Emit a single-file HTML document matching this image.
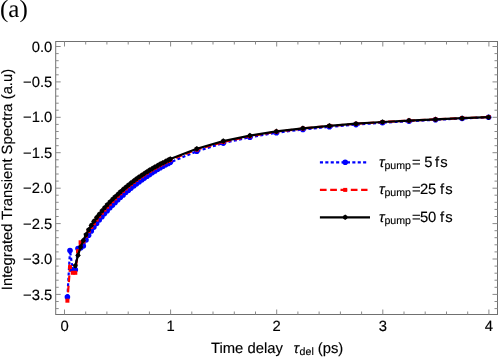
<!DOCTYPE html>
<html><head><meta charset="utf-8"><title>plot</title>
<style>html,body{margin:0;padding:0;background:#fff;}body{width:498px;height:357px;overflow:hidden;position:relative;font-family:"Liberation Sans",sans-serif;}</style></head>
<body>
<svg width="498" height="357" viewBox="0 0 498 357" style="position:absolute;left:0;top:0;will-change:transform">
<rect x="55.7" y="41.5" width="441.8" height="273.0" fill="none" stroke="#707070" stroke-width="1"/>
<path d="M64.5,314.5v-5.0M64.5,41.5v5.0M85.7,314.5v-3.0M85.7,41.5v3.0M106.9,314.5v-3.0M106.9,41.5v3.0M128.2,314.5v-3.0M128.2,41.5v3.0M149.4,314.5v-3.0M149.4,41.5v3.0M170.6,314.5v-5.0M170.6,41.5v5.0M191.8,314.5v-3.0M191.8,41.5v3.0M213.0,314.5v-3.0M213.0,41.5v3.0M234.3,314.5v-3.0M234.3,41.5v3.0M255.5,314.5v-3.0M255.5,41.5v3.0M276.7,314.5v-5.0M276.7,41.5v5.0M297.9,314.5v-3.0M297.9,41.5v3.0M319.1,314.5v-3.0M319.1,41.5v3.0M340.4,314.5v-3.0M340.4,41.5v3.0M361.6,314.5v-3.0M361.6,41.5v3.0M382.8,314.5v-5.0M382.8,41.5v5.0M404.0,314.5v-3.0M404.0,41.5v3.0M425.2,314.5v-3.0M425.2,41.5v3.0M446.5,314.5v-3.0M446.5,41.5v3.0M467.7,314.5v-3.0M467.7,41.5v3.0M488.9,314.5v-5.0M488.9,41.5v5.0M55.7,46.5h5.0M497.5,46.5h-5.0M55.7,53.6h3.0M497.5,53.6h-3.0M55.7,60.7h3.0M497.5,60.7h-3.0M55.7,67.7h3.0M497.5,67.7h-3.0M55.7,74.8h3.0M497.5,74.8h-3.0M55.7,81.9h5.0M497.5,81.9h-5.0M55.7,89.0h3.0M497.5,89.0h-3.0M55.7,96.1h3.0M497.5,96.1h-3.0M55.7,103.2h3.0M497.5,103.2h-3.0M55.7,110.2h3.0M497.5,110.2h-3.0M55.7,117.3h5.0M497.5,117.3h-5.0M55.7,124.4h3.0M497.5,124.4h-3.0M55.7,131.5h3.0M497.5,131.5h-3.0M55.7,138.6h3.0M497.5,138.6h-3.0M55.7,145.7h3.0M497.5,145.7h-3.0M55.7,152.7h5.0M497.5,152.7h-5.0M55.7,159.8h3.0M497.5,159.8h-3.0M55.7,166.9h3.0M497.5,166.9h-3.0M55.7,174.0h3.0M497.5,174.0h-3.0M55.7,181.1h3.0M497.5,181.1h-3.0M55.7,188.2h5.0M497.5,188.2h-5.0M55.7,195.2h3.0M497.5,195.2h-3.0M55.7,202.3h3.0M497.5,202.3h-3.0M55.7,209.4h3.0M497.5,209.4h-3.0M55.7,216.5h3.0M497.5,216.5h-3.0M55.7,223.6h5.0M497.5,223.6h-5.0M55.7,230.7h3.0M497.5,230.7h-3.0M55.7,237.7h3.0M497.5,237.7h-3.0M55.7,244.8h3.0M497.5,244.8h-3.0M55.7,251.9h3.0M497.5,251.9h-3.0M55.7,259.0h5.0M497.5,259.0h-5.0M55.7,266.1h3.0M497.5,266.1h-3.0M55.7,273.2h3.0M497.5,273.2h-3.0M55.7,280.2h3.0M497.5,280.2h-3.0M55.7,287.3h3.0M497.5,287.3h-3.0M55.7,294.4h5.0M497.5,294.4h-5.0M55.7,301.5h3.0M497.5,301.5h-3.0M55.7,308.6h3.0M497.5,308.6h-3.0" stroke="#8a8a8a" stroke-width="1" fill="none"/>
<g font-family="Liberation Sans, sans-serif" font-size="14.8" fill="#000" stroke="#000" stroke-width="0.15" text-rendering="geometricPrecision">
<text x="64.5" y="330.5" text-anchor="middle">0</text>
<text x="170.6" y="330.5" text-anchor="middle">1</text>
<text x="276.7" y="330.5" text-anchor="middle">2</text>
<text x="382.8" y="330.5" text-anchor="middle">3</text>
<text x="488.9" y="330.5" text-anchor="middle">4</text>
<text x="52.3" y="51.6" text-anchor="end">0.0</text>
<text x="52.3" y="87.0" text-anchor="end">−0.5</text>
<text x="52.3" y="122.4" text-anchor="end">−1.0</text>
<text x="52.3" y="157.8" text-anchor="end">−1.5</text>
<text x="52.3" y="193.3" text-anchor="end">−2.0</text>
<text x="52.3" y="228.7" text-anchor="end">−2.5</text>
<text x="52.3" y="264.1" text-anchor="end">−3.0</text>
<text x="52.3" y="299.5" text-anchor="end">−3.5</text>
</g>
<polyline points="67.4,297.1 70.0,250.5 72.7,269.8 75.3,269.8 78.0,248.5 80.6,248.0 83.3,246.0 86.0,240.0 88.6,235.2 91.3,230.9 93.9,227.1 96.6,223.5 99.2,220.0 101.9,216.8 104.5,213.6 107.2,210.7 109.8,207.8 112.5,205.1 115.1,202.4 117.8,199.8 120.4,197.3 123.1,194.9 125.7,192.5 128.4,190.3 131.0,188.1 133.7,186.0 136.3,184.0 139.0,182.0 141.7,180.0 144.3,178.1 147.0,176.2 149.6,174.4 152.3,172.6 154.9,170.9 157.6,169.3 160.2,167.7 162.9,166.2 165.5,164.8 168.2,163.4 170.3,162.3 196.8,151.3 223.3,143.1 249.9,137.2 276.4,132.7 302.9,129.4 329.4,126.8 356.0,124.6 382.5,122.7 409.0,121.2 435.5,119.8 462.1,118.5 488.6,117.3" fill="none" stroke="#0000ff" stroke-width="2.2" stroke-dasharray="3.1 2.3"/>
<polyline points="67.4,300.7 70.0,267.1 72.7,272.8 75.3,272.8 78.0,251.1 80.6,242.3 83.3,241.5 86.0,235.7 88.6,231.1 91.3,227.0 93.9,223.3 96.6,219.6 99.2,216.1 101.9,212.8 104.5,209.7 107.2,206.7 109.8,203.8 112.5,201.1 115.1,198.4 117.8,195.8 120.4,193.3 123.1,190.9 125.7,188.5 128.4,186.3 131.0,184.1 133.7,182.0 136.3,180.0 139.0,178.0 141.7,176.2 144.3,174.4 147.0,172.7 149.6,171.0 152.3,169.4 154.9,167.9 157.6,166.4 160.2,164.9 162.9,163.5 165.5,162.2 168.2,160.9 170.3,159.8 196.8,149.6 223.3,142.0 249.9,136.2 276.4,131.7 302.9,128.5 329.4,125.9 356.0,123.8 382.5,122.0 409.0,120.6 435.5,119.3 462.1,118.1 488.6,117.0" fill="none" stroke="#ff0000" stroke-width="2.2" stroke-dasharray="6.7 3.6" stroke-dashoffset="2"/>
<circle cx="67.4" cy="297.1" r="2.8" fill="#0000ff"/>
<circle cx="70.0" cy="250.5" r="2.8" fill="#0000ff"/>
<circle cx="72.7" cy="269.8" r="2.8" fill="#0000ff"/>
<circle cx="75.3" cy="269.8" r="2.8" fill="#0000ff"/>
<circle cx="78.0" cy="248.5" r="2.8" fill="#0000ff"/>
<circle cx="80.6" cy="248.0" r="2.8" fill="#0000ff"/>
<circle cx="83.3" cy="246.0" r="2.8" fill="#0000ff"/>
<circle cx="86.0" cy="240.0" r="2.8" fill="#0000ff"/>
<circle cx="88.6" cy="235.2" r="2.8" fill="#0000ff"/>
<circle cx="91.3" cy="230.9" r="2.8" fill="#0000ff"/>
<circle cx="93.9" cy="227.1" r="2.8" fill="#0000ff"/>
<circle cx="96.6" cy="223.5" r="2.8" fill="#0000ff"/>
<circle cx="99.2" cy="220.0" r="2.8" fill="#0000ff"/>
<circle cx="101.9" cy="216.8" r="2.8" fill="#0000ff"/>
<circle cx="104.5" cy="213.6" r="2.8" fill="#0000ff"/>
<circle cx="107.2" cy="210.7" r="2.8" fill="#0000ff"/>
<circle cx="109.8" cy="207.8" r="2.8" fill="#0000ff"/>
<circle cx="112.5" cy="205.1" r="2.8" fill="#0000ff"/>
<circle cx="115.1" cy="202.4" r="2.8" fill="#0000ff"/>
<circle cx="117.8" cy="199.8" r="2.8" fill="#0000ff"/>
<circle cx="120.4" cy="197.3" r="2.8" fill="#0000ff"/>
<circle cx="123.1" cy="194.9" r="2.8" fill="#0000ff"/>
<circle cx="125.7" cy="192.5" r="2.8" fill="#0000ff"/>
<circle cx="128.4" cy="190.3" r="2.8" fill="#0000ff"/>
<circle cx="131.0" cy="188.1" r="2.8" fill="#0000ff"/>
<circle cx="133.7" cy="186.0" r="2.8" fill="#0000ff"/>
<circle cx="136.3" cy="184.0" r="2.8" fill="#0000ff"/>
<circle cx="139.0" cy="182.0" r="2.8" fill="#0000ff"/>
<circle cx="141.7" cy="180.0" r="2.8" fill="#0000ff"/>
<circle cx="144.3" cy="178.1" r="2.8" fill="#0000ff"/>
<circle cx="147.0" cy="176.2" r="2.8" fill="#0000ff"/>
<circle cx="149.6" cy="174.4" r="2.8" fill="#0000ff"/>
<circle cx="152.3" cy="172.6" r="2.8" fill="#0000ff"/>
<circle cx="154.9" cy="170.9" r="2.8" fill="#0000ff"/>
<circle cx="157.6" cy="169.3" r="2.8" fill="#0000ff"/>
<circle cx="160.2" cy="167.7" r="2.8" fill="#0000ff"/>
<circle cx="162.9" cy="166.2" r="2.8" fill="#0000ff"/>
<circle cx="165.5" cy="164.8" r="2.8" fill="#0000ff"/>
<circle cx="168.2" cy="163.4" r="2.8" fill="#0000ff"/>
<circle cx="170.3" cy="162.3" r="2.8" fill="#0000ff"/>
<circle cx="196.8" cy="151.3" r="2.8" fill="#0000ff"/>
<circle cx="223.3" cy="143.1" r="2.8" fill="#0000ff"/>
<circle cx="249.9" cy="137.2" r="2.8" fill="#0000ff"/>
<circle cx="276.4" cy="132.7" r="2.8" fill="#0000ff"/>
<circle cx="302.9" cy="129.4" r="2.8" fill="#0000ff"/>
<circle cx="329.4" cy="126.8" r="2.8" fill="#0000ff"/>
<circle cx="356.0" cy="124.6" r="2.8" fill="#0000ff"/>
<circle cx="382.5" cy="122.7" r="2.8" fill="#0000ff"/>
<circle cx="409.0" cy="121.2" r="2.8" fill="#0000ff"/>
<circle cx="435.5" cy="119.8" r="2.8" fill="#0000ff"/>
<circle cx="462.1" cy="118.5" r="2.8" fill="#0000ff"/>
<circle cx="488.6" cy="117.3" r="2.8" fill="#0000ff"/>
<rect x="65.4" y="298.7" width="4" height="4" fill="#ff0000"/>
<rect x="68.0" y="265.1" width="4" height="4" fill="#ff0000"/>
<rect x="70.7" y="270.8" width="4" height="4" fill="#ff0000"/>
<rect x="73.3" y="270.8" width="4" height="4" fill="#ff0000"/>
<rect x="76.0" y="249.1" width="4" height="4" fill="#ff0000"/>
<rect x="78.6" y="240.3" width="4" height="4" fill="#ff0000"/>
<rect x="81.3" y="239.5" width="4" height="4" fill="#ff0000"/>
<rect x="84.0" y="233.7" width="4" height="4" fill="#ff0000"/>
<rect x="86.6" y="229.1" width="4" height="4" fill="#ff0000"/>
<rect x="89.3" y="225.0" width="4" height="4" fill="#ff0000"/>
<rect x="91.9" y="221.3" width="4" height="4" fill="#ff0000"/>
<rect x="94.6" y="217.6" width="4" height="4" fill="#ff0000"/>
<rect x="97.2" y="214.1" width="4" height="4" fill="#ff0000"/>
<rect x="99.9" y="210.8" width="4" height="4" fill="#ff0000"/>
<rect x="102.5" y="207.7" width="4" height="4" fill="#ff0000"/>
<rect x="105.2" y="204.7" width="4" height="4" fill="#ff0000"/>
<rect x="107.8" y="201.8" width="4" height="4" fill="#ff0000"/>
<rect x="110.5" y="199.1" width="4" height="4" fill="#ff0000"/>
<rect x="113.1" y="196.4" width="4" height="4" fill="#ff0000"/>
<rect x="115.8" y="193.8" width="4" height="4" fill="#ff0000"/>
<rect x="118.4" y="191.3" width="4" height="4" fill="#ff0000"/>
<rect x="121.1" y="188.9" width="4" height="4" fill="#ff0000"/>
<rect x="123.7" y="186.5" width="4" height="4" fill="#ff0000"/>
<rect x="126.4" y="184.3" width="4" height="4" fill="#ff0000"/>
<rect x="129.0" y="182.1" width="4" height="4" fill="#ff0000"/>
<rect x="131.7" y="180.0" width="4" height="4" fill="#ff0000"/>
<rect x="134.3" y="178.0" width="4" height="4" fill="#ff0000"/>
<rect x="137.0" y="176.0" width="4" height="4" fill="#ff0000"/>
<rect x="139.7" y="174.2" width="4" height="4" fill="#ff0000"/>
<rect x="142.3" y="172.4" width="4" height="4" fill="#ff0000"/>
<rect x="145.0" y="170.7" width="4" height="4" fill="#ff0000"/>
<rect x="147.6" y="169.0" width="4" height="4" fill="#ff0000"/>
<rect x="150.3" y="167.4" width="4" height="4" fill="#ff0000"/>
<rect x="152.9" y="165.9" width="4" height="4" fill="#ff0000"/>
<rect x="155.6" y="164.4" width="4" height="4" fill="#ff0000"/>
<rect x="158.2" y="162.9" width="4" height="4" fill="#ff0000"/>
<rect x="160.9" y="161.5" width="4" height="4" fill="#ff0000"/>
<rect x="163.5" y="160.2" width="4" height="4" fill="#ff0000"/>
<rect x="166.2" y="158.9" width="4" height="4" fill="#ff0000"/>
<rect x="168.3" y="157.8" width="4" height="4" fill="#ff0000"/>
<rect x="194.8" y="147.6" width="4" height="4" fill="#ff0000"/>
<rect x="221.3" y="140.0" width="4" height="4" fill="#ff0000"/>
<rect x="247.9" y="134.2" width="4" height="4" fill="#ff0000"/>
<rect x="274.4" y="129.7" width="4" height="4" fill="#ff0000"/>
<rect x="300.9" y="126.5" width="4" height="4" fill="#ff0000"/>
<rect x="327.4" y="123.9" width="4" height="4" fill="#ff0000"/>
<rect x="354.0" y="121.8" width="4" height="4" fill="#ff0000"/>
<rect x="380.5" y="120.0" width="4" height="4" fill="#ff0000"/>
<rect x="407.0" y="118.6" width="4" height="4" fill="#ff0000"/>
<rect x="433.5" y="117.3" width="4" height="4" fill="#ff0000"/>
<rect x="460.1" y="116.1" width="4" height="4" fill="#ff0000"/>
<rect x="486.6" y="115.0" width="4" height="4" fill="#ff0000"/>
<polyline points="75.3,265.7 78.0,255.3 80.6,247.1 83.3,240.4 86.0,234.7 88.6,229.8 91.3,225.3 93.9,221.3 96.6,217.6 99.2,214.2 101.9,210.9 104.5,207.8 107.2,204.8 109.8,202.0 112.5,199.3 115.1,196.7 117.8,194.2 120.4,191.7 123.1,189.4 125.7,187.2 128.4,185.0 131.0,182.9 133.7,180.9 136.3,178.9 139.0,177.0 141.7,175.2 144.3,173.5 147.0,171.8 149.6,170.1 152.3,168.6 154.9,167.0 157.6,165.6 160.2,164.1 162.9,162.7 165.5,161.4 168.2,160.1 170.3,159.1 196.8,148.7 223.3,141.1 249.9,135.6 276.4,131.4 302.9,128.3 329.4,125.8 356.0,123.7 382.5,122.0 409.0,120.6 435.5,119.4 462.1,118.2 488.6,117.2" fill="none" stroke="#000" stroke-width="2.2" stroke-linejoin="round"/>
<path d="M75.3,262.9l1.7,1.3l0.75,1.5l-0.75,1.5l-1.7,1.3l-1.7,-1.3l-0.75,-1.5l0.75,-1.5z" fill="#000"/>
<path d="M78.0,252.5l1.7,1.3l0.75,1.5l-0.75,1.5l-1.7,1.3l-1.7,-1.3l-0.75,-1.5l0.75,-1.5z" fill="#000"/>
<path d="M80.6,244.3l1.7,1.3l0.75,1.5l-0.75,1.5l-1.7,1.3l-1.7,-1.3l-0.75,-1.5l0.75,-1.5z" fill="#000"/>
<path d="M83.3,237.6l1.7,1.3l0.75,1.5l-0.75,1.5l-1.7,1.3l-1.7,-1.3l-0.75,-1.5l0.75,-1.5z" fill="#000"/>
<path d="M86.0,231.9l1.7,1.3l0.75,1.5l-0.75,1.5l-1.7,1.3l-1.7,-1.3l-0.75,-1.5l0.75,-1.5z" fill="#000"/>
<path d="M88.6,227.0l1.7,1.3l0.75,1.5l-0.75,1.5l-1.7,1.3l-1.7,-1.3l-0.75,-1.5l0.75,-1.5z" fill="#000"/>
<path d="M91.3,222.5l1.7,1.3l0.75,1.5l-0.75,1.5l-1.7,1.3l-1.7,-1.3l-0.75,-1.5l0.75,-1.5z" fill="#000"/>
<path d="M93.9,218.5l1.7,1.3l0.75,1.5l-0.75,1.5l-1.7,1.3l-1.7,-1.3l-0.75,-1.5l0.75,-1.5z" fill="#000"/>
<path d="M96.6,214.8l1.7,1.3l0.75,1.5l-0.75,1.5l-1.7,1.3l-1.7,-1.3l-0.75,-1.5l0.75,-1.5z" fill="#000"/>
<path d="M99.2,211.4l1.7,1.3l0.75,1.5l-0.75,1.5l-1.7,1.3l-1.7,-1.3l-0.75,-1.5l0.75,-1.5z" fill="#000"/>
<path d="M101.9,208.1l1.7,1.3l0.75,1.5l-0.75,1.5l-1.7,1.3l-1.7,-1.3l-0.75,-1.5l0.75,-1.5z" fill="#000"/>
<path d="M104.5,205.0l1.7,1.3l0.75,1.5l-0.75,1.5l-1.7,1.3l-1.7,-1.3l-0.75,-1.5l0.75,-1.5z" fill="#000"/>
<path d="M107.2,202.0l1.7,1.3l0.75,1.5l-0.75,1.5l-1.7,1.3l-1.7,-1.3l-0.75,-1.5l0.75,-1.5z" fill="#000"/>
<path d="M109.8,199.2l1.7,1.3l0.75,1.5l-0.75,1.5l-1.7,1.3l-1.7,-1.3l-0.75,-1.5l0.75,-1.5z" fill="#000"/>
<path d="M112.5,196.5l1.7,1.3l0.75,1.5l-0.75,1.5l-1.7,1.3l-1.7,-1.3l-0.75,-1.5l0.75,-1.5z" fill="#000"/>
<path d="M115.1,193.9l1.7,1.3l0.75,1.5l-0.75,1.5l-1.7,1.3l-1.7,-1.3l-0.75,-1.5l0.75,-1.5z" fill="#000"/>
<path d="M117.8,191.4l1.7,1.3l0.75,1.5l-0.75,1.5l-1.7,1.3l-1.7,-1.3l-0.75,-1.5l0.75,-1.5z" fill="#000"/>
<path d="M120.4,188.9l1.7,1.3l0.75,1.5l-0.75,1.5l-1.7,1.3l-1.7,-1.3l-0.75,-1.5l0.75,-1.5z" fill="#000"/>
<path d="M123.1,186.6l1.7,1.3l0.75,1.5l-0.75,1.5l-1.7,1.3l-1.7,-1.3l-0.75,-1.5l0.75,-1.5z" fill="#000"/>
<path d="M125.7,184.4l1.7,1.3l0.75,1.5l-0.75,1.5l-1.7,1.3l-1.7,-1.3l-0.75,-1.5l0.75,-1.5z" fill="#000"/>
<path d="M128.4,182.2l1.7,1.3l0.75,1.5l-0.75,1.5l-1.7,1.3l-1.7,-1.3l-0.75,-1.5l0.75,-1.5z" fill="#000"/>
<path d="M131.0,180.1l1.7,1.3l0.75,1.5l-0.75,1.5l-1.7,1.3l-1.7,-1.3l-0.75,-1.5l0.75,-1.5z" fill="#000"/>
<path d="M133.7,178.1l1.7,1.3l0.75,1.5l-0.75,1.5l-1.7,1.3l-1.7,-1.3l-0.75,-1.5l0.75,-1.5z" fill="#000"/>
<path d="M136.3,176.1l1.7,1.3l0.75,1.5l-0.75,1.5l-1.7,1.3l-1.7,-1.3l-0.75,-1.5l0.75,-1.5z" fill="#000"/>
<path d="M139.0,174.2l1.7,1.3l0.75,1.5l-0.75,1.5l-1.7,1.3l-1.7,-1.3l-0.75,-1.5l0.75,-1.5z" fill="#000"/>
<path d="M141.7,172.4l1.7,1.3l0.75,1.5l-0.75,1.5l-1.7,1.3l-1.7,-1.3l-0.75,-1.5l0.75,-1.5z" fill="#000"/>
<path d="M144.3,170.7l1.7,1.3l0.75,1.5l-0.75,1.5l-1.7,1.3l-1.7,-1.3l-0.75,-1.5l0.75,-1.5z" fill="#000"/>
<path d="M147.0,169.0l1.7,1.3l0.75,1.5l-0.75,1.5l-1.7,1.3l-1.7,-1.3l-0.75,-1.5l0.75,-1.5z" fill="#000"/>
<path d="M149.6,167.3l1.7,1.3l0.75,1.5l-0.75,1.5l-1.7,1.3l-1.7,-1.3l-0.75,-1.5l0.75,-1.5z" fill="#000"/>
<path d="M152.3,165.8l1.7,1.3l0.75,1.5l-0.75,1.5l-1.7,1.3l-1.7,-1.3l-0.75,-1.5l0.75,-1.5z" fill="#000"/>
<path d="M154.9,164.2l1.7,1.3l0.75,1.5l-0.75,1.5l-1.7,1.3l-1.7,-1.3l-0.75,-1.5l0.75,-1.5z" fill="#000"/>
<path d="M157.6,162.8l1.7,1.3l0.75,1.5l-0.75,1.5l-1.7,1.3l-1.7,-1.3l-0.75,-1.5l0.75,-1.5z" fill="#000"/>
<path d="M160.2,161.3l1.7,1.3l0.75,1.5l-0.75,1.5l-1.7,1.3l-1.7,-1.3l-0.75,-1.5l0.75,-1.5z" fill="#000"/>
<path d="M162.9,159.9l1.7,1.3l0.75,1.5l-0.75,1.5l-1.7,1.3l-1.7,-1.3l-0.75,-1.5l0.75,-1.5z" fill="#000"/>
<path d="M165.5,158.6l1.7,1.3l0.75,1.5l-0.75,1.5l-1.7,1.3l-1.7,-1.3l-0.75,-1.5l0.75,-1.5z" fill="#000"/>
<path d="M168.2,157.3l1.7,1.3l0.75,1.5l-0.75,1.5l-1.7,1.3l-1.7,-1.3l-0.75,-1.5l0.75,-1.5z" fill="#000"/>
<path d="M170.3,156.3l1.7,1.3l0.75,1.5l-0.75,1.5l-1.7,1.3l-1.7,-1.3l-0.75,-1.5l0.75,-1.5z" fill="#000"/>
<path d="M196.8,145.9l1.7,1.3l0.75,1.5l-0.75,1.5l-1.7,1.3l-1.7,-1.3l-0.75,-1.5l0.75,-1.5z" fill="#000"/>
<path d="M223.3,138.3l1.7,1.3l0.75,1.5l-0.75,1.5l-1.7,1.3l-1.7,-1.3l-0.75,-1.5l0.75,-1.5z" fill="#000"/>
<path d="M249.9,132.8l1.7,1.3l0.75,1.5l-0.75,1.5l-1.7,1.3l-1.7,-1.3l-0.75,-1.5l0.75,-1.5z" fill="#000"/>
<path d="M276.4,128.6l1.7,1.3l0.75,1.5l-0.75,1.5l-1.7,1.3l-1.7,-1.3l-0.75,-1.5l0.75,-1.5z" fill="#000"/>
<path d="M302.9,125.5l1.7,1.3l0.75,1.5l-0.75,1.5l-1.7,1.3l-1.7,-1.3l-0.75,-1.5l0.75,-1.5z" fill="#000"/>
<path d="M329.4,123.0l1.7,1.3l0.75,1.5l-0.75,1.5l-1.7,1.3l-1.7,-1.3l-0.75,-1.5l0.75,-1.5z" fill="#000"/>
<path d="M356.0,120.9l1.7,1.3l0.75,1.5l-0.75,1.5l-1.7,1.3l-1.7,-1.3l-0.75,-1.5l0.75,-1.5z" fill="#000"/>
<path d="M382.5,119.2l1.7,1.3l0.75,1.5l-0.75,1.5l-1.7,1.3l-1.7,-1.3l-0.75,-1.5l0.75,-1.5z" fill="#000"/>
<path d="M409.0,117.8l1.7,1.3l0.75,1.5l-0.75,1.5l-1.7,1.3l-1.7,-1.3l-0.75,-1.5l0.75,-1.5z" fill="#000"/>
<path d="M435.5,116.6l1.7,1.3l0.75,1.5l-0.75,1.5l-1.7,1.3l-1.7,-1.3l-0.75,-1.5l0.75,-1.5z" fill="#000"/>
<path d="M462.1,115.4l1.7,1.3l0.75,1.5l-0.75,1.5l-1.7,1.3l-1.7,-1.3l-0.75,-1.5l0.75,-1.5z" fill="#000"/>
<path d="M488.6,114.4l1.7,1.3l0.75,1.5l-0.75,1.5l-1.7,1.3l-1.7,-1.3l-0.75,-1.5l0.75,-1.5z" fill="#000"/>
<line x1="319.9" x2="367" y1="162.3" y2="162.3" stroke="#0000ff" stroke-width="2.2" stroke-dasharray="3.1 2.3"/>
<circle cx="345.2" cy="162.3" r="2.8" fill="#0000ff"/>
<line x1="319.9" x2="367.5" y1="189.9" y2="189.9" stroke="#ff0000" stroke-width="2.2" stroke-dasharray="6.7 3.6"/>
<rect x="343.2" y="187.9" width="4" height="4" fill="#ff0000"/>
<line x1="319.9" x2="370" y1="217.3" y2="217.3" stroke="#000" stroke-width="2.2"/>
<path d="M345.2,214.5l1.8,1.3l0.8,1.5l-0.8,1.5l-1.8,1.3l-1.8,-1.3l-0.8,-1.5l0.8,-1.5z" fill="#000"/>
<g font-family="Liberation Sans, sans-serif" font-size="14.8" fill="#000" stroke="#000" stroke-width="0.15" text-rendering="geometricPrecision">
<text x="378.9" y="167.0" font-style="italic">τ</text>
<text x="384.4" y="169.0" font-size="10.6">pump</text>
<text x="412" y="167.0">=</text>
<text x="424.3" y="167.0">5</text>
<text x="434.9" y="167.0" letter-spacing="1.2">fs</text>
<text x="378.9" y="194.3" font-style="italic">τ</text>
<text x="384.4" y="196.3" font-size="10.6">pump</text>
<text x="412" y="194.3">=</text>
<text x="419.9" y="194.3">25</text>
<text x="439.9" y="194.3" letter-spacing="1.2">fs</text>
<text x="378.9" y="221.8" font-style="italic">τ</text>
<text x="384.4" y="223.8" font-size="10.6">pump</text>
<text x="412" y="221.8">=</text>
<text x="419.9" y="221.8">50</text>
<text x="439.9" y="221.8" letter-spacing="1.2">fs</text>
<text x="211" y="353.2">Time delay</text>
<text x="293.5" y="353.2" font-style="italic">τ</text>
<text x="299.6" y="355.2" font-size="10.6">del</text>
<text x="317.8" y="353.2">(ps)</text>
<text transform="translate(12,179.5) rotate(-90)" text-anchor="middle">Integrated Transient Spectra (a.u)</text>
</g>
<text x="0" y="16.6" font-family="Liberation Serif, serif" font-size="25" fill="#000" text-rendering="geometricPrecision">(a)</text>
</svg>
</body></html>
